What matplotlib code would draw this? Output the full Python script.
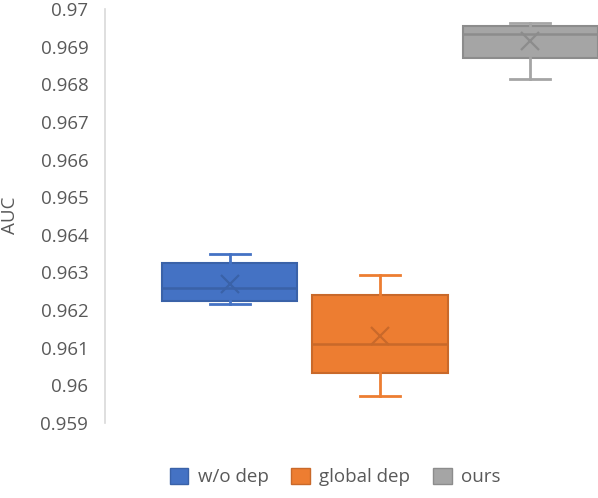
import matplotlib.pyplot as plt
from matplotlib.patches import Patch

plt.rcParams['font.family'] = ['Open Sans', 'DejaVu Sans']

labels = ['w/o dep', 'global dep', 'ours']
whislo = [0.96215, 0.95973, 0.96814]
q1 = [0.96223, 0.96032, 0.96870]
med = [0.96260, 0.96111, 0.96934]
q3 = [0.96326, 0.96239, 0.96955]
whishi = [0.96350, 0.96292, 0.96963]
means = [0.96270, 0.96130, 0.96915]

fills = ['#4472C4', '#ED7D31', '#A5A5A5']
darks = ['#3A62A8', '#C9692A', '#8C8C8C']

fig = plt.figure(figsize=(5.98, 4.98), dpi=100)
ax = fig.add_axes([105 / 598, 1 - 423 / 498, 1 - 105 / 598, (423 - 9) / 498])

for i in range(len(labels)):
    stats = [dict(whislo=whislo[i], q1=q1[i], med=med[i], q3=q3[i],
                  whishi=whishi[i], mean=means[i], fliers=[])]
    ax.bxp(stats, positions=[i], widths=0.9, capwidths=0.27,
           showmeans=True, patch_artist=True,
           boxprops=dict(facecolor=fills[i], edgecolor=darks[i], linewidth=1.5),
           medianprops=dict(color=darks[i], linewidth=1.8),
           whiskerprops=dict(color=fills[i], linewidth=2),
           capprops=dict(color=fills[i], linewidth=2),
           meanprops=dict(marker='x', markeredgecolor=darks[i],
                          markersize=13, markeredgewidth=1.6))

ax.set_xlim(-0.833, 2.453)
ax.set_ylim(0.959, 0.97)
ax.set_yticks([0.959 + 0.001 * k for k in range(12)])
ax.set_yticklabels(['0.959', '0.96', '0.961', '0.962', '0.963', '0.964', '0.965',
                    '0.966', '0.967', '0.968', '0.969', '0.97'])
ax.set_xticks([])
ax.tick_params(axis='y', length=0, pad=12, labelsize=13.5, labelcolor='#595959')
for s in ['top', 'right', 'bottom']:
    ax.spines[s].set_visible(False)
ax.spines['left'].set_color('#d9d9d9')
ax.spines['left'].set_linewidth(1.2)

fig.text(10 / 598, 1 - 215 / 498, 'AUC', rotation=90, ha='center', va='center',
         fontsize=13.5, color='#595959')

handles = [Patch(facecolor=fills[i], edgecolor=darks[i], label=labels[i])
           for i in range(len(labels))]
fig.legend(handles=handles, loc='center', bbox_to_anchor=(335 / 598, 1 - 477 / 498),
           ncol=3, frameon=False, fontsize=13.5, labelcolor='#595959',
           handlelength=1.0, handleheight=1.0, handletextpad=0.5, columnspacing=1.2)

fig.savefig('out.png', dpi=100)
plt.close(fig)
